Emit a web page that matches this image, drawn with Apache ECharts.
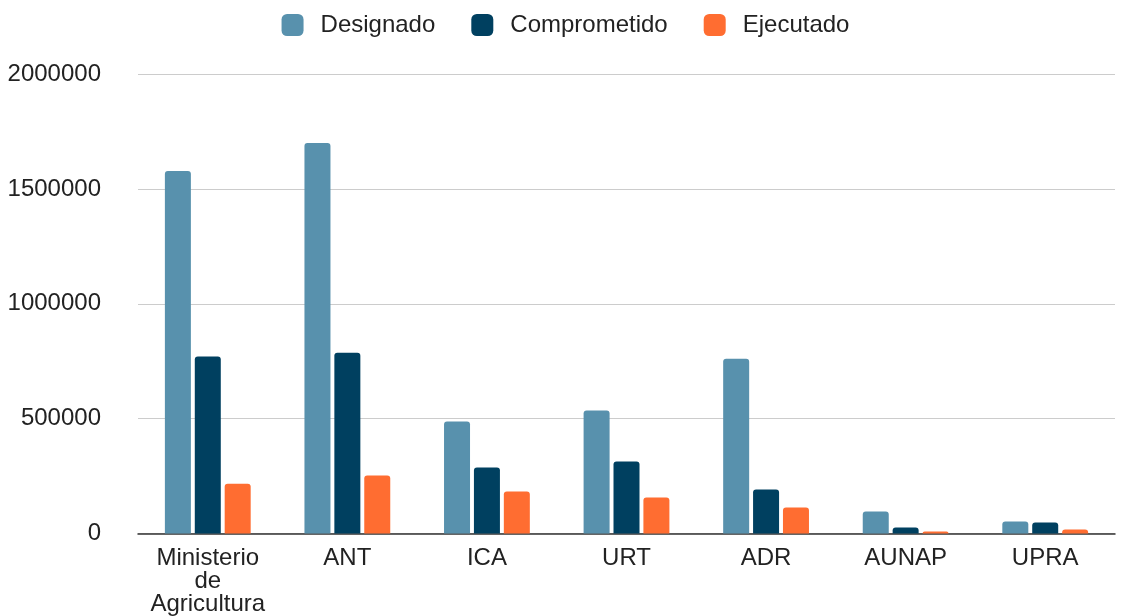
<!DOCTYPE html>
<html>
<head>
<meta charset="utf-8">
<script src="https://cdn.jsdelivr.net/npm/echarts@6/dist/echarts.min.js"></script>
<style>
  html, body { margin: 0; padding: 0; background: #fff; }
  #chart { width: 1131px; height: 616px; }
</style>
</head>
<body>
<div id="chart"></div>
<script>
// datos
const categorias = ['Ministerio\nde\nAgricultura', 'ANT', 'ICA', 'URT', 'ADR', 'AUNAP', 'UPRA']
const designado = [1578000, 1700000, 487000, 535000, 761000, 96000, 52000]
const comprometido = [770000, 787000, 287000, 313000, 191000, 26000, 48000]
const ejecutado = [217000, 252000, 183000, 157000, 113000, 9000, 17000]
const yTicks = [0, 500000, 1000000, 1500000, 2000000]

const colores = ['#5891ad', '#004060', '#ff6d31']
const fuente = '"Liberation Sans", Arial, sans-serif'

const chart = echarts.init(document.getElementById('chart'))

const serie = (name, data) => ({
  name,
  type: 'bar',
  data,
  barWidth: 26,
  barGap: '15%',
  itemStyle: { borderRadius: [3, 3, 0, 0] }
})

chart.setOption({
  animation: false,
  color: colores,
  textStyle: { fontFamily: fuente },
  legend: {
    top: 8,
    left: 'center',
    itemWidth: 22,
    itemHeight: 22,
    itemGap: 36,
    icon: 'roundRect',
    textStyle: { fontSize: 24, color: '#222', fontFamily: fuente, padding: [0, 0, 0, 12], lineHeight: 22 }
  },
  grid: { left: 138, right: 16, top: 74, bottom: 82, containLabel: false },
  xAxis: {
    type: 'category',
    data: categorias,
    axisTick: { show: false },
    axisLine: { lineStyle: { color: '#333', width: 1.5 } },
    axisLabel: { fontSize: 24, color: '#222', margin: 13, lineHeight: 23, interval: 0 }
  },
  yAxis: {
    type: 'value',
    min: yTicks[0],
    max: yTicks[yTicks.length - 1],
    interval: 500000,
    axisLabel: { fontSize: 24, color: '#222', margin: 37, formatter: v => String(v) },
    axisLine: { show: false },
    axisTick: { show: false },
    splitLine: { lineStyle: { color: '#cccccc', width: 1.2 } }
  },
  series: [
    serie('Designado', designado),
    serie('Comprometido', comprometido),
    serie('Ejecutado', ejecutado)
  ]
})
</script>
</body>
</html>
